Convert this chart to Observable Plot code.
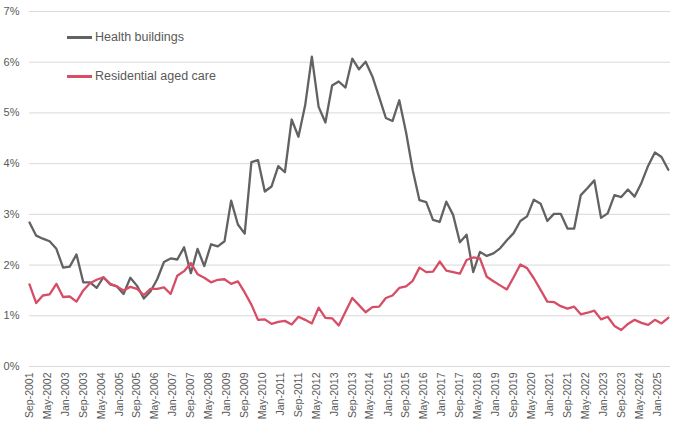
<!DOCTYPE html>
<html>
<head>
<meta charset="utf-8">
<script src="https://cdn.jsdelivr.net/npm/d3@7"></script>
<script src="https://cdn.jsdelivr.net/npm/@observablehq/plot@0.6"></script>
<style>
  html, body { margin: 0; padding: 0; background: #fff; }
  #wrap { position: relative; width: 680px; height: 422px; font-family: "Liberation Sans", Arial, sans-serif; }
  .legend { position: absolute; left: 67px; font-size: 12.5px; color: #595959; display: flex; align-items: center; }
  .legend .sw { width: 25px; height: 3px; margin-right: 3px; }
</style>
</head>
<body>
<div id="wrap"></div>
<script>
// Quarterly series starting Sep-2001
const startMonth = "2001-09";
const seriesNames = ["Health buildings", "Residential aged care"];
const seriesColors = ["#626262", "#d64d65"];

const healthBuildings = [
  2.84, 2.58, 2.52, 2.47, 2.32, 1.95, 1.97, 2.21, 1.66, 1.66, 1.55, 1.76,
  1.62, 1.58, 1.43, 1.75, 1.59, 1.34, 1.48, 1.72, 2.06, 2.13, 2.11, 2.35,
  1.84, 2.32, 1.98, 2.41, 2.37, 2.47, 3.27, 2.80, 2.62, 4.03, 4.07, 3.45,
  3.55, 3.95, 3.83, 4.87, 4.53, 5.15, 6.11, 5.12, 4.81, 5.54, 5.62, 5.50,
  6.07, 5.86, 6.01, 5.72, 5.31, 4.90, 4.84, 5.25, 4.62, 3.87, 3.28, 3.24,
  2.89, 2.85, 3.25, 2.99, 2.45, 2.60, 1.86, 2.26, 2.18, 2.23, 2.33, 2.49,
  2.63, 2.87, 2.96, 3.29, 3.21, 2.87, 3.01, 3.01, 2.72, 2.72, 3.38, 3.52,
  3.67, 2.93, 3.02, 3.38, 3.34, 3.49, 3.35, 3.62, 3.96, 4.22, 4.13, 3.88
];

const residentialAgedCare = [
  1.62, 1.25, 1.40, 1.42, 1.63, 1.37, 1.38, 1.28, 1.50, 1.64, 1.71, 1.76,
  1.63, 1.58, 1.50, 1.57, 1.53, 1.41, 1.53, 1.53, 1.56, 1.43, 1.79, 1.88,
  2.04, 1.82, 1.75, 1.66, 1.71, 1.72, 1.63, 1.68, 1.46, 1.22, 0.92, 0.93,
  0.84, 0.88, 0.90, 0.83, 0.98, 0.92, 0.85, 1.16, 0.96, 0.95, 0.81, 1.08,
  1.35, 1.21, 1.07, 1.17, 1.18, 1.35, 1.40, 1.55, 1.58, 1.69, 1.95, 1.86,
  1.87, 2.07, 1.89, 1.86, 1.83, 2.10, 2.15, 2.13, 1.77, 1.68, 1.60, 1.52,
  1.76, 2.01, 1.94, 1.74, 1.51, 1.28, 1.27, 1.19, 1.14, 1.18, 1.03, 1.06,
  1.10, 0.93, 0.98, 0.80, 0.72, 0.84, 0.92, 0.86, 0.82, 0.92, 0.85, 0.96
];

const tickLabels = [
  "Sep-2001","May-2002","Jan-2003","Sep-2003","May-2004","Jan-2005","Sep-2005","May-2006","Jan-2007",
  "Sep-2007","May-2008","Jan-2009","Sep-2009","May-2010","Jan-2011","Sep-2011","May-2012","Jan-2013",
  "Sep-2013","May-2014","Jan-2015","Sep-2015","May-2016","Jan-2017","Sep-2017","May-2018","Jan-2019",
  "Sep-2019","May-2020","Jan-2021","Sep-2021","May-2022","Jan-2023","Sep-2023","May-2024","Jan-2025"
];
const yTicks = [0, 1, 2, 3, 4, 5, 6, 7];

const start = d3.utcParse("%Y-%m")(startMonth);
const dates = healthBuildings.map((_, i) => d3.utcMonth.offset(start, 3 * i));
const data = [];
healthBuildings.forEach((v, i) => data.push({date: dates[i], value: v, series: seriesNames[0]}));
residentialAgedCare.forEach((v, i) => data.push({date: dates[i], value: v, series: seriesNames[1]}));

const parseTick = d3.utcParse("%b-%Y");
const tickDates = tickLabels.map(parseTick);

const chart = Plot.plot({
  width: 680,
  height: 422,
  marginLeft: 29,
  marginRight: 10,
  marginTop: 11,
  marginBottom: 56,
  style: {fontFamily: "'Liberation Sans', Arial, sans-serif", fontSize: "11px", color: "#595959", background: "#fff"},
  x: {type: "utc", domain: [start, d3.utcMonth.offset(dates[dates.length - 1], 1)], label: null},
  y: {domain: [0, 7], label: null},
  color: {domain: seriesNames, range: seriesColors},
  marks: [
    Plot.gridY(yTicks, {stroke: "#d9d9d9", strokeOpacity: 1, strokeWidth: 1}),
    Plot.axisY(yTicks, {tickSize: 0, tickPadding: 10, tickFormat: d => d + "%", fontSize: 11, fill: "#595959", label: null}),
    Plot.axisX(tickDates, {tickSize: 0, tickPadding: 6, tickRotate: -90, tickFormat: d3.utcFormat("%b-%Y"), fontSize: 10.5, fill: "#595959", label: null}),
    Plot.lineY(data, {x: "date", y: "value", z: "series", stroke: "series", strokeWidth: 2.3, strokeLinejoin: "round"})
  ]
});

const wrap = document.getElementById("wrap");
wrap.appendChild(chart);

const legendTops = [37, 76];
seriesNames.forEach((name, i) => {
  const row = document.createElement("div");
  row.className = "legend";
  row.style.top = (legendTops[i] - 9) + "px";
  row.style.height = "18px";
  const sw = document.createElement("span");
  sw.className = "sw";
  sw.style.background = seriesColors[i];
  const tx = document.createElement("span");
  tx.textContent = name;
  row.appendChild(sw);
  row.appendChild(tx);
  wrap.appendChild(row);
});
</script>
</body>
</html>
